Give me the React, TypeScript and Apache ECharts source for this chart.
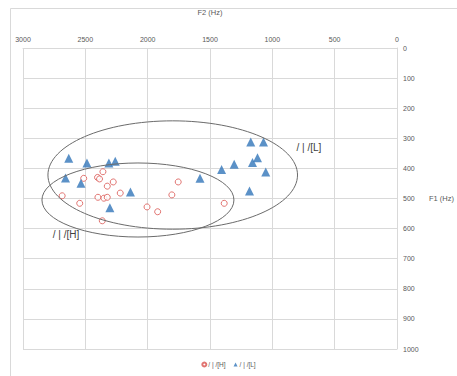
import React, { useEffect, useRef } from "react";
import * as echarts from "echarts";

// /ɪ/[H] tokens: [F2, F1]
const hF2 = [2359, 2513, 2402, 2386, 2276, 2324, 2686, 2545, 2399, 2351, 2324, 2220, 2364, 1755, 1806, 2005, 1920, 1386];
const hF1 = [411, 433, 430, 435, 445, 459, 491, 516, 496, 499, 496, 482, 574, 445, 488, 528, 544, 516];
// /ɪ/[L] tokens
const lF2 = [2633, 2487, 2311, 2260, 2659, 2535, 2138, 2303, 1173, 1071, 1119, 1159, 1306, 1407, 1053, 1580, 1183];
const lF1 = [366, 382, 382, 376, 432, 449, 478, 531, 312, 312, 365, 380, 386, 404, 412, 433, 475];

// ellipses: [centerF2, centerF1, radiusF2, radiusF1]
const ellipseL = [1799, 422, 1001, 180];
const ellipseH = [2078, 505, 770, 123];
// ellipse labels: [F2, F1]
const labelNames = ["/ | /[L]", "/ | /[H]"];
const labelPos = [
  [806, 332],
  [2761, 621],
];

const xTicks = { min: 0, max: 3000, interval: 500 };
const yTicks = { min: 0, max: 1000, interval: 100 };

const FONT = "'Liberation Sans', Arial, sans-serif";

export default function App() {
  const ref = useRef<HTMLDivElement>(null);
  useEffect(() => {
    const chart = echarts.init(ref.current!, null, { renderer: "svg" });
    const ellipses = [ellipseL, ellipseH];
    chart.setOption({
      animation: false,
      backgroundColor: "#ffffff",
      textStyle: { fontFamily: FONT },
      graphic: [
        {
          type: "rect",
          shape: { x: 10.5, y: 8.5, width: 470, height: 400 },
          style: { fill: "none", stroke: "#d9d9d9", lineWidth: 1 },
          silent: true,
        },
      ],
      grid: { left: 23, right: 58, top: 48, bottom: 27 },
      xAxis: {
        type: "value",
        position: "top",
        inverse: true,
        min: xTicks.min,
        max: xTicks.max,
        interval: xTicks.interval,
        name: "F2 (Hz)",
        nameLocation: "middle",
        nameGap: 32,
        nameTextStyle: { color: "#595959", fontSize: 7.5, fontFamily: FONT },
        axisLine: { show: true, lineStyle: { color: "#d9d9d9" } },
        axisTick: { show: false },
        axisLabel: {
          color: "#595959",
          fontSize: 7,
          margin: 5,
          fontFamily: FONT,
          formatter: (v: number) => String(v),
        },
        splitLine: { show: true, lineStyle: { color: "#d9d9d9", width: 1 } },
      },
      yAxis: {
        type: "value",
        position: "right",
        inverse: true,
        min: yTicks.min,
        max: yTicks.max,
        interval: yTicks.interval,
        name: "F1 (Hz)",
        nameLocation: "middle",
        nameRotate: 0,
        nameGap: 32,
        nameTextStyle: { color: "#595959", fontSize: 7.5, align: "left", fontFamily: FONT },
        axisLine: { show: true, lineStyle: { color: "#d9d9d9" } },
        axisTick: { show: false },
        axisLabel: {
          color: "#595959",
          fontSize: 7,
          margin: 6,
          fontFamily: FONT,
          formatter: (v: number) => String(v),
        },
        splitLine: { show: true, lineStyle: { color: "#d9d9d9", width: 1 } },
      },
      legend: {
        bottom: 3,
        left: "center",
        data: [
          { name: "/ | /[H]", icon: "circle" },
          { name: "/ | /[L]", icon: "triangle" },
        ],
        itemWidth: 4,
        itemHeight: 4,
        itemGap: 8,
        textStyle: { color: "#595959", fontSize: 6.5, fontFamily: FONT, padding: [0, 0, 0, -3] },
      },
      series: [
        {
          name: "/ | /[H]",
          type: "scatter",
          symbol: "circle",
          symbolSize: 6,
          itemStyle: { color: "#ffffff", borderColor: "#d9534f", borderWidth: 1 },
          data: hF2.map((v, i) => [v, hF1[i]]),
          z: 3,
        },
        {
          name: "/ | /[L]",
          type: "scatter",
          symbol: "triangle",
          symbolSize: 9,
          itemStyle: { color: "#3275b9" },
          data: lF2.map((v, i) => [v, lF1[i]]),
          z: 3,
        },
        {
          name: "ellipses",
          type: "custom",
          silent: true,
          z: 4,
          data: ellipses.map((e, i) => [e[0], e[1], e[2], e[3], labelPos[i][0], labelPos[i][1], i]),
          renderItem: (params: any, api: any) => {
            const c = api.coord([api.value(0), api.value(1)]);
            const s = api.size([api.value(2), api.value(3)]);
            const lp = api.coord([api.value(4), api.value(5)]);
            const idx = api.value(6);
            return {
              type: "group",
              children: [
                {
                  type: "ellipse",
                  shape: { cx: c[0], cy: c[1], rx: Math.abs(s[0]), ry: Math.abs(s[1]) },
                  style: { fill: "none", stroke: "#6b6b6b", lineWidth: 1 },
                },
                {
                  type: "text",
                  x: lp[0],
                  y: lp[1],
                  style: {
                    text: labelNames[idx],
                    fill: "#404040",
                    fontSize: 10,
                    fontFamily: FONT,
                    textAlign: "left",
                    textVerticalAlign: "middle",
                  },
                },
              ],
            };
          },
        },
      ],
    });
    return () => chart.dispose();
  }, []);
  return (
    <div
      ref={ref}
      style={{ position: "fixed", left: 0, top: 0, width: 457, height: 376 }}
    />
  );
}
